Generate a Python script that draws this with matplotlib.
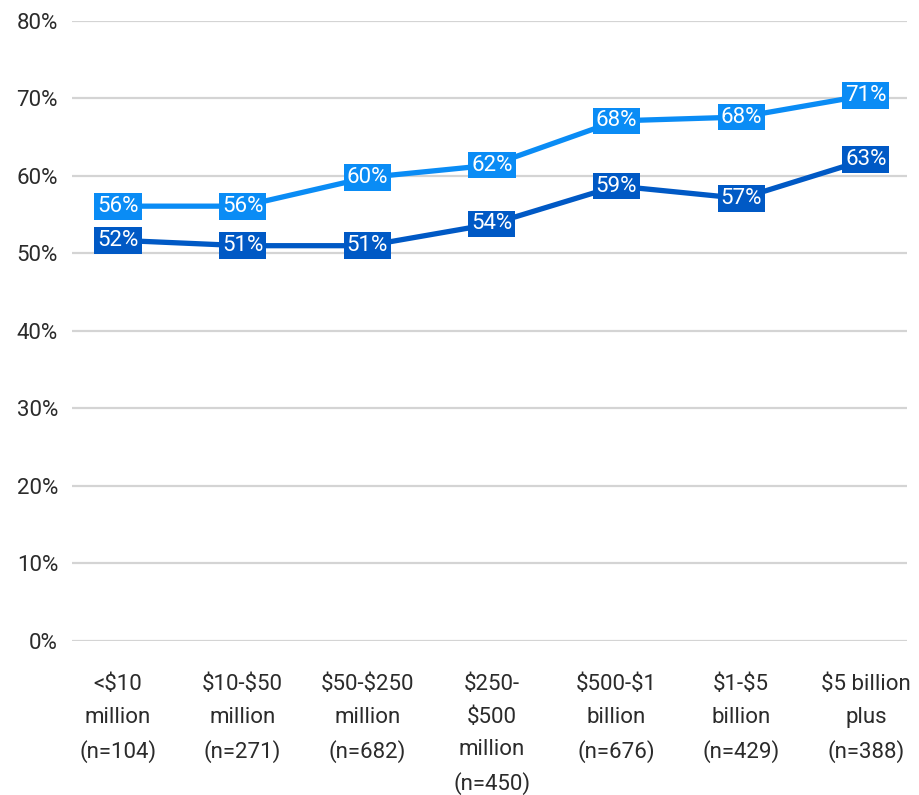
import matplotlib
matplotlib.use("Agg")
import matplotlib.pyplot as plt

categories = ["<$10\nmillion\n(n=104)", "$10-$50\nmillion\n(n=271)",
              "$50-$250\nmillion\n(n=682)", "$250-\n$500\nmillion\n(n=450)",
              "$500-$1\nbillion\n(n=676)", "$1-$5\nbillion\n(n=429)",
              "$5 billion\nplus\n(n=388)"]
upper = [56.1, 56.1, 59.8, 61.4, 67.1, 67.6, 70.4]
upper_labels = [56, 56, 60, 62, 68, 68, 71]
lower = [51.7, 51.0, 51.0, 53.8, 58.7, 57.1, 62.1]
lower_labels = [52, 51, 51, 54, 59, 57, 63]
yticks = [0, 10, 20, 30, 40, 50, 60, 70, 80]

light = "#0A8CF5"
dark = "#0059C5"

plt.rcParams['font.family'] = ['Roboto', 'DejaVu Sans']
plt.rcParams['text.parse_math'] = False

fig = plt.figure(figsize=(9.19, 7.95), dpi=100)
ax = fig.add_axes([0.0783, 0.1937, 0.9086, 0.780])

x = list(range(len(categories)))
ax.plot(x, upper, color=light, lw=3.8, solid_capstyle='butt', zorder=3)
ax.plot(x, lower, color=dark, lw=3.8, solid_capstyle='butt', zorder=3)

for xi, v, lab in zip(x, upper, upper_labels):
    ax.text(xi, v, f"{lab}%", ha='center', va='center', color='white',
            fontsize=16, zorder=4,
            bbox=dict(boxstyle='square,pad=0.13', fc=light, ec='none'))
for xi, v, lab in zip(x, lower, lower_labels):
    ax.text(xi, v, f"{lab}%", ha='center', va='center', color='white',
            fontsize=16, zorder=4,
            bbox=dict(boxstyle='square,pad=0.13', fc=dark, ec='none'))

ax.set_xlim(-0.369, 6.33)
ax.set_ylim(0, 80)
ax.set_yticks(yticks)
ax.set_yticklabels([f"{t}%" for t in yticks])
ax.set_xticks(x)
ax.set_xticklabels(categories, linespacing=1.7)
ax.tick_params(axis='both', length=0, labelsize=16, labelcolor='#2b2b2b')
ax.tick_params(axis='x', pad=24)
ax.tick_params(axis='y', pad=10)
for lab in ax.get_xticklabels():
    lab.set_verticalalignment('top')

ax.grid(axis='y', color='#d4d4d4', lw=1.6)
ax.set_axisbelow(True)
for s in ax.spines.values():
    s.set_visible(False)

fig.savefig("out.png", dpi=100)
